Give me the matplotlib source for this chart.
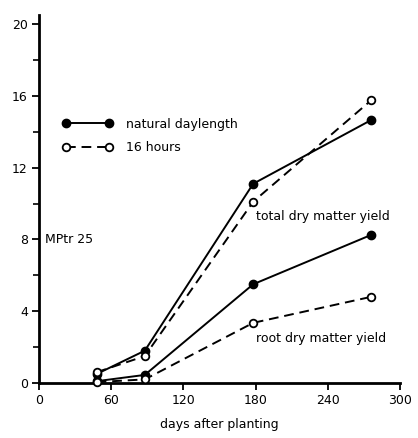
import matplotlib
matplotlib.use("Agg")
import matplotlib.pyplot as plt
from matplotlib.lines import Line2D

# Harvest dates (days after planting) and dry matter yields
days = [48, 88, 178, 276]
total_natural = [0.5, 1.8, 11.1, 14.65]
total_16h = [0.6, 1.5, 10.1, 15.75]
root_natural = [0.1, 0.45, 5.5, 8.25]
root_16h = [0.05, 0.2, 3.35, 4.8]

x_ticks = [0, 60, 120, 180, 240, 300]
y_ticks = [0, 4, 8, 12, 16, 20]

plt.rcParams['font.family'] = ['DejaVu Sans']

fig = plt.figure(figsize=(4.18, 4.38), dpi=100)
ax = fig.add_axes([0.093, 0.1256, 0.864, 0.84])

solid = dict(color='black', lw=1.4, ls='-', marker='o', ms=6,
             mfc='black', mec='black', clip_on=False)
dashed = dict(color='black', lw=1.4, ls=(0, (5, 3)), marker='o', ms=5.5,
              mfc='white', mec='black', mew=1.3, clip_on=False)

ax.plot(days, total_natural, **solid, zorder=3)
ax.plot(days, total_16h, **dashed, zorder=3)
ax.plot(days, root_natural, **solid, zorder=3)
ax.plot(days, root_16h, **dashed, zorder=3)

ax.set_xlim(0, 300)
ax.set_ylim(0, 20.5)
ax.set_xticks(x_ticks)
ax.set_yticks(y_ticks)
ax.set_yticks(range(2, 21, 4), minor=True)

for s in ['top', 'right']:
    ax.spines[s].set_visible(False)
for s in ['left', 'bottom']:
    ax.spines[s].set_linewidth(2.0)

ax.tick_params(axis='both', which='major', direction='out', length=5,
               width=1.3, labelsize=9, pad=3)
ax.tick_params(axis='y', which='minor', direction='out', length=4, width=1.2)

ax.set_xlabel('days after planting', fontsize=9, labelpad=8)

ax.text(0.016, 0.39, 'MPtr 25', fontsize=9, va='center', ha='left',
        transform=ax.transAxes)
ax.text(180, 9.3, 'total dry matter yield', fontsize=9, va='center', ha='left')
ax.text(180, 2.5, 'root dry matter yield', fontsize=9, va='center', ha='left')

handles = [
    Line2D([], [], **{k: v for k, v in solid.items() if k != 'clip_on'}),
    Line2D([], [], **{k: v for k, v in dashed.items() if k != 'clip_on'}),
]
ax.legend(handles, ['natural daylength', '16 hours'], loc='upper left',
          bbox_to_anchor=(0.05, 0.735), frameon=False, fontsize=9,
          handlelength=4.1, handletextpad=1.0, labelspacing=0.85,
          numpoints=2, borderaxespad=0)

fig.savefig('out.png', dpi=100)
